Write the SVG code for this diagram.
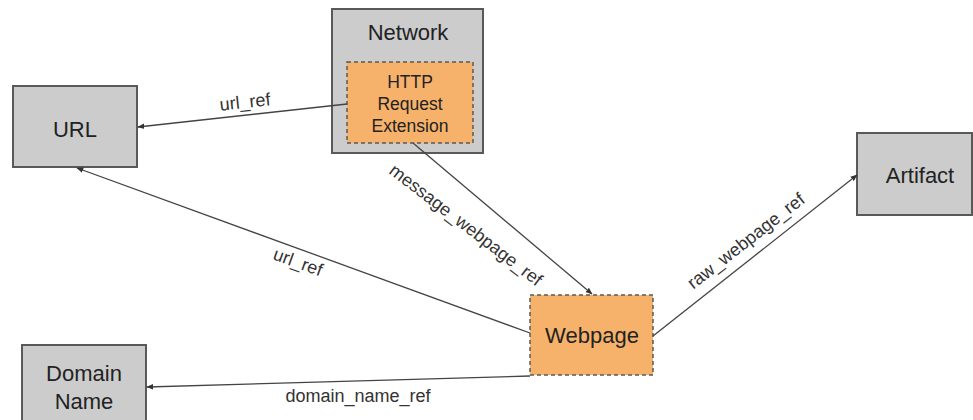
<svg xmlns="http://www.w3.org/2000/svg" width="973" height="420" viewBox="0 0 973 420">
<defs>
<marker id="arr" viewBox="0 0 10 10" refX="9" refY="5" markerWidth="7" markerHeight="7" orient="auto-start-reverse" markerUnits="userSpaceOnUse">
<path d="M0,1 L10,5 L0,9 z" fill="#333"/>
</marker>
<style>
.gray{fill:#cccccc;stroke:#595959;stroke-width:2}
.orange{fill:#f6b26b;stroke:#595959;stroke-width:1.5;stroke-dasharray:4,3}
.lbl{font-family:"Liberation Sans",Arial,sans-serif;font-size:22px;fill:#222;text-anchor:middle}
.sm{font-family:"Liberation Sans",Arial,sans-serif;font-size:17.5px;fill:#222;text-anchor:middle}
.el{font-family:"Liberation Sans",Arial,sans-serif;font-size:18px;fill:#333;text-anchor:middle}
.ln{stroke:#444;stroke-width:1.3;fill:none;marker-end:url(#arr)}
</style>
</defs>
<rect width="973" height="420" fill="#fff"/>
<g id="network">
<rect class="gray" x="332" y="9" width="151" height="144"/>
<text class="lbl" x="408" y="40">Network</text>
</g>
<g id="http">
<rect class="orange" x="347" y="62" width="126" height="81"/>
<text class="sm" x="410" y="88">HTTP</text>
<text class="sm" x="410" y="110">Request</text>
<text class="sm" x="410" y="132">Extension</text>
</g>
<g id="url">
<rect class="gray" x="13" y="86" width="124" height="81"/>
<text class="lbl" x="75" y="137">URL</text>
</g>
<g id="webpage">
<rect class="orange" x="530" y="295" width="123" height="80"/>
<text class="lbl" x="592" y="343">Webpage</text>
</g>
<g id="artifact">
<rect class="gray" x="857" y="133" width="115" height="82"/>
<text class="lbl" x="920" y="183">Artifact</text>
</g>
<g id="domain">
<rect class="gray" x="22" y="345" width="124" height="80"/>
<text class="lbl" x="84" y="381">Domain</text>
<text class="lbl" x="84" y="409">Name</text>
</g>
<g id="connectors">
<line class="ln" x1="347" y1="104" x2="138" y2="127"/>
<line class="ln" x1="530" y1="333" x2="77" y2="168"/>
<line class="ln" x1="413" y1="143" x2="592" y2="294"/>
<line class="ln" x1="653" y1="336" x2="857" y2="175"/>
<line class="ln" x1="530" y1="376" x2="147" y2="387"/>
<text class="el" transform="translate(245 102) rotate(-6)" y="6">url_ref</text>
<text class="el" transform="translate(298 262) rotate(20)" y="6">url_ref</text>
<text class="el" transform="translate(466 225) rotate(37.5)" y="6">message_webpage_ref</text>
<text class="el" transform="translate(746 241) rotate(-38)" y="6">raw_webpage_ref</text>
<text class="el" x="358" y="402">domain_name_ref</text>
</g>
</svg>
